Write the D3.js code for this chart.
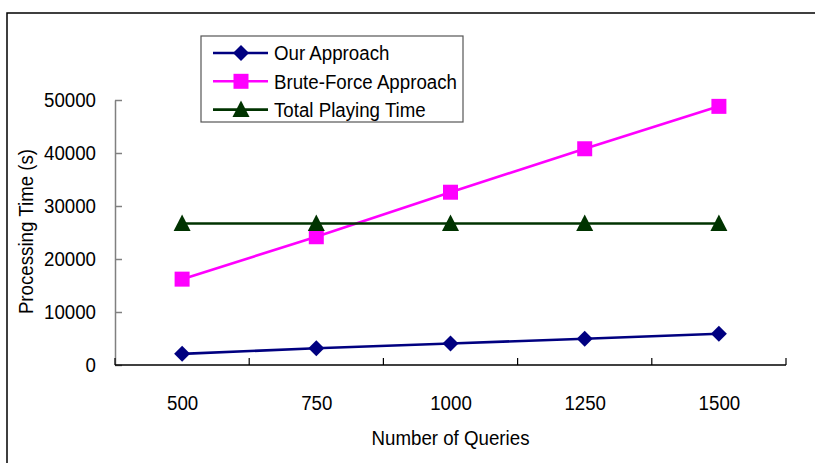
<!DOCTYPE html>
<html>
<head>
<meta charset="utf-8">
<script src="https://cdn.jsdelivr.net/npm/d3@7"></script>
<style>
  html, body { margin: 0; padding: 0; background: #fff; }
  svg { display: block; font-family: "Liberation Sans", Arial, sans-serif; }
</style>
</head>
<body>
<svg id="chart" width="815" height="463"></svg>
<script>
// Query counts on the x axis
const queries = ["500", "750", "1000", "1250", "1500"];
// Processing time in seconds per series
const ourApproach = [2100, 3150, 4050, 4950, 5900];
const bruteForce = [16200, 24200, 32600, 40800, 48800];
const totalPlaying = [26700, 26700, 26700, 26700, 26700];
const yTicks = [0, 10000, 20000, 30000, 40000, 50000];
const seriesNames = ["Our Approach", "Brute-Force Approach", "Total Playing Time"];

const series = [
  { name: seriesNames[0], values: ourApproach, color: "#000080", marker: "diamond" },
  { name: seriesNames[1], values: bruteForce, color: "#FF00FF", marker: "square" },
  { name: seriesNames[2], values: totalPlaying, color: "#003300", marker: "triangle" }
];

const svg = d3.select("#chart");
const FONT = 20;
const SQUEEZE = 0.935;   // slightly condensed lettering

// Move each text's x/y into a transform so it can be narrowed horizontally
function condense(sel, extra) {
  sel.each(function () {
    const t = d3.select(this);
    const tx = +t.attr("x") || 0, ty = +t.attr("y") || 0;
    t.attr("x", 0).attr("y", 0)
      .attr("transform", `translate(${tx},${ty}) ${extra || ""} scale(${SQUEEZE},1)`);
  });
}

// Outer frame (runs off the right and bottom edges)
svg.append("rect")
  .attr("x", 7).attr("y", 13)
  .attr("width", 830).attr("height", 470)
  .attr("fill", "none").attr("stroke", "#000").attr("stroke-width", 1.5);

const plot = { left: 115, right: 786, top: 100, bottom: 365 };

const x = d3.scalePoint().domain(queries).range([plot.left, plot.right]).padding(0.5);
const xBand = d3.scaleBand().domain(queries).range([plot.left, plot.right]);
const y = d3.scaleLinear().domain([0, 50000]).range([plot.bottom, plot.top]);

// Y axis: gray line, ticks pointing inward
const yAxis = svg.append("g")
  .attr("transform", `translate(${plot.left},0)`)
  .call(d3.axisLeft(y).tickValues(yTicks).tickFormat(d3.format("d"))
    .tickSize(-7).tickPadding(19).tickSizeOuter(0));
yAxis.select(".domain").attr("stroke", "#808080").attr("stroke-width", 1.5);
yAxis.selectAll(".tick line").attr("stroke", "#808080").attr("stroke-width", 1.5);
yAxis.selectAll(".tick text")
  .attr("font-size", FONT).attr("fill", "#000")
  .attr("font-family", "Liberation Sans, Arial, sans-serif")
  .call(condense);

// X axis: labels at category centres, ticks at category boundaries
const xAxis = svg.append("g")
  .attr("transform", `translate(0,${plot.bottom})`)
  .call(d3.axisBottom(x).tickSize(0).tickPadding(31));
xAxis.select(".domain").remove();
xAxis.selectAll(".tick text")
  .attr("font-size", FONT).attr("fill", "#000")
  .attr("font-family", "Liberation Sans, Arial, sans-serif")
  .call(condense);

const boundaries = queries.map(q => xBand(q)).concat([xBand.range()[1]]);
svg.append("g").selectAll("line").data(boundaries).join("line")
  .attr("x1", d => d).attr("x2", d => d)
  .attr("y1", plot.bottom).attr("y2", plot.bottom - 7)
  .attr("stroke", "#000").attr("stroke-width", 1.2);
svg.append("line")
  .attr("x1", plot.left).attr("x2", plot.right)
  .attr("y1", plot.bottom).attr("y2", plot.bottom)
  .attr("stroke", "#000").attr("stroke-width", 1.5);

// Axis titles
svg.append("text")
  .attr("x", (plot.left + plot.right) / 2).attr("y", 445)
  .attr("text-anchor", "middle").attr("font-size", FONT)
  .text("Number of Queries")
  .call(condense);
svg.append("text")
  .attr("x", 26).attr("y", (plot.top + plot.bottom) / 2 - 1)
  .attr("text-anchor", "middle").attr("dominant-baseline", "central")
  .attr("font-size", FONT)
  .text("Processing Time (s)")
  .call(condense, "rotate(-90)");

// Marker shapes
function markerPath(type) {
  if (type === "diamond") return "M0,-8L8,0L0,8L-8,0Z";
  if (type === "square") return "M-7.5,-7.5H7.5V7.5H-7.5Z";
  return "M0,-9L8.5,7.5H-8.5Z";
}

const line = d3.line().x((d, i) => x(queries[i])).y(d => y(d));

series.forEach(s => {
  const g = svg.append("g");
  g.append("path")
    .datum(s.values)
    .attr("d", line)
    .attr("fill", "none").attr("stroke", s.color).attr("stroke-width", 2.6);
  g.selectAll("path.m").data(s.values).join("path")
    .attr("class", "m")
    .attr("transform", (d, i) => `translate(${x(queries[i])},${y(d)})`)
    .attr("d", markerPath(s.marker))
    .attr("fill", s.color);
});

// Legend
const legend = svg.append("g");
legend.append("rect")
  .attr("x", 201).attr("y", 36).attr("width", 262).attr("height", 86)
  .attr("fill", "#fff").attr("stroke", "#555").attr("stroke-width", 1.2);
const rows = legend.selectAll("g.row").data(series).join("g")
  .attr("class", "row")
  .attr("transform", (d, i) => `translate(0,${53 + i * 28.3})`);
rows.append("line")
  .attr("x1", 213).attr("x2", 268).attr("y1", 0).attr("y2", 0)
  .attr("stroke", d => d.color).attr("stroke-width", 2.6);
rows.append("path")
  .attr("transform", "translate(241,0)")
  .attr("d", d => markerPath(d.marker))
  .attr("fill", d => d.color);
rows.append("text")
  .attr("x", 274).attr("y", 0)
  .attr("dominant-baseline", "central")
  .attr("font-size", FONT)
  .text(d => d.name)
  .call(condense);
</script>
</body>
</html>
